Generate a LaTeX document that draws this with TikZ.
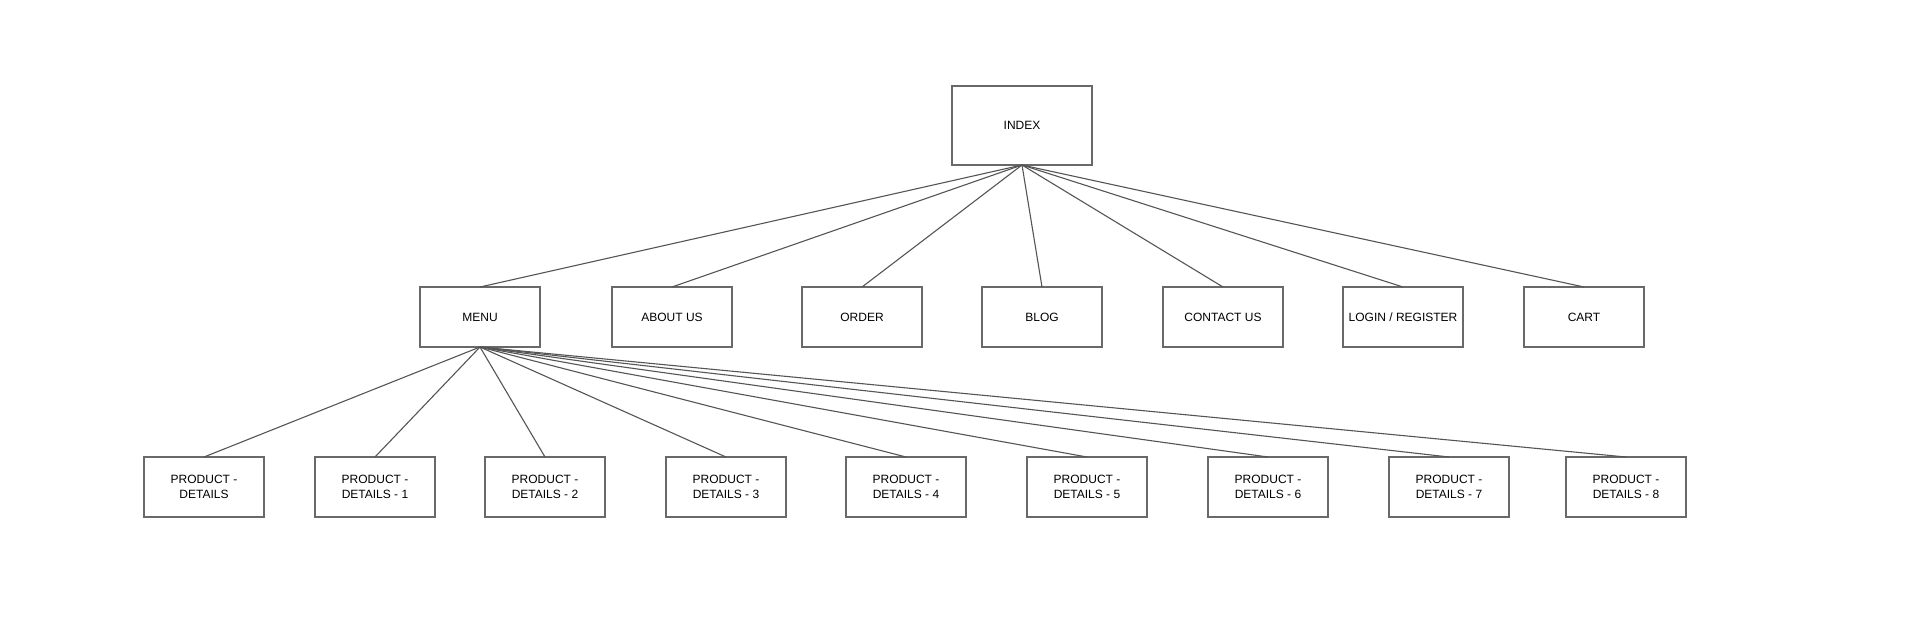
\documentclass[tikz,border=0pt]{standalone}
\usepackage{fontspec}
\setmainfont{Liberation Sans}
\definecolor{boxgray}{RGB}{105,105,105}
\definecolor{linegray}{RGB}{85,85,85}
\begin{document}
\begin{tikzpicture}[x=1pt,y=-1pt,
  box/.style={draw=boxgray, line width=1.6pt, fill=white, anchor=north west,
    outer sep=0pt, minimum width=120pt, minimum height=60pt, inner sep=0pt, align=center,
    font=\fontsize{12}{14.3}\selectfont},
  link/.style={draw=linegray, line width=1.1pt}]
\useasboundingbox[fill=white] (0,0) rectangle (1920,625);
% level 1
\node[box, minimum width=140pt, minimum height=79pt] (index) at (952,86) {INDEX};
% level 2
\node[box] (menu)    at (420,287)  {MENU};
\node[box] (about)   at (612,287)  {ABOUT US};
\node[box] (order)   at (802,287)  {ORDER};
\node[box] (blog)    at (982,287)  {BLOG};
\node[box] (contact) at (1163,287) {CONTACT US};
\node[box] (login)   at (1343,287) {LOGIN / REGISTER};
\node[box] (cart)    at (1524,287) {CART};
% level 3
\node[box] (pd0) at (144,457)  {PRODUCT -\\DETAILS};
\node[box] (pd1) at (315,457)  {PRODUCT -\\DETAILS - 1};
\node[box] (pd2) at (485,457)  {PRODUCT -\\DETAILS - 2};
\node[box] (pd3) at (666,457)  {PRODUCT -\\DETAILS - 3};
\node[box] (pd4) at (846,457)  {PRODUCT -\\DETAILS - 4};
\node[box] (pd5) at (1027,457) {PRODUCT -\\DETAILS - 5};
\node[box] (pd6) at (1208,457) {PRODUCT -\\DETAILS - 6};
\node[box] (pd7) at (1389,457) {PRODUCT -\\DETAILS - 7};
\node[box] (pd8) at (1566,457) {PRODUCT -\\DETAILS - 8};
% connectors
\foreach \n in {menu,about,order,blog,contact,login,cart}
  \draw[link] (index.south) -- (\n.north);
\foreach \n in {pd0,pd1,pd2,pd3,pd4,pd5,pd6,pd7,pd8}
  \draw[link] (menu.south) -- (\n.north);
\end{tikzpicture}
\end{document}
